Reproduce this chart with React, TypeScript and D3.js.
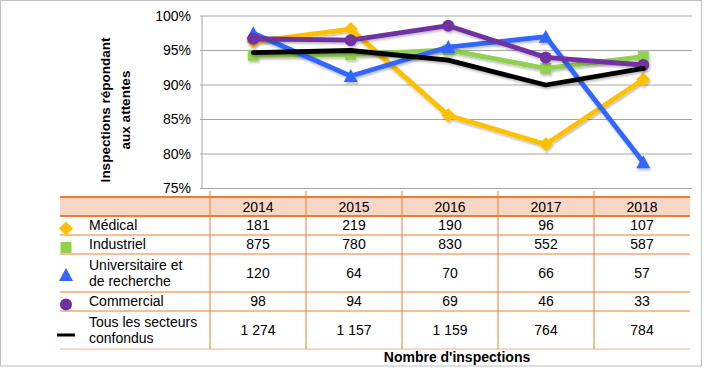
import React from "react";
import * as d3 from "d3";

const years = ["2014", "2015", "2016", "2017", "2018"];
const yTicks = [0.75, 0.8, 0.85, 0.9, 0.95, 1.0];

const medical = [0.963, 0.981, 0.856, 0.814, 0.908];
const industriel = [0.943, 0.944, 0.951, 0.924, 0.941];
const universitaire = [0.975, 0.913, 0.955, 0.970, 0.788];
const commercial = [0.967, 0.965, 0.986, 0.940, 0.929];
const tous = [0.947, 0.950, 0.936, 0.900, 0.924];

const countsMedical = ["181", "219", "190", "96", "107"];
const countsIndustriel = ["875", "780", "830", "552", "587"];
const countsUniversitaire = ["120", "64", "70", "66", "57"];
const countsCommercial = ["98", "94", "69", "46", "33"];
const countsTous = ["1 274", "1 157", "1 159", "764", "784"];

const seriesNames = [
  ["Médical"],
  ["Industriel"],
  ["Universitaire et", "de recherche"],
  ["Commercial"],
  ["Tous les secteurs", "confondus"],
];

const FONT = "'Liberation Sans', Arial, sans-serif";

type Series = { values: number[]; color: string; marker: string; counts: string[] };

const series: Series[] = [
  { values: medical, color: "#FFC000", marker: "diamond", counts: countsMedical },
  { values: industriel, color: "#92D050", marker: "square", counts: countsIndustriel },
  { values: universitaire, color: "#3366FF", marker: "triangle", counts: countsUniversitaire },
  { values: commercial, color: "#7030A0", marker: "circle", counts: countsCommercial },
  { values: tous, color: "#000000", marker: "none", counts: countsTous },
];

function Marker({ type, x, y, color }: { type: string; x: number; y: number; color: string }) {
  if (type === "diamond") {
    const s = 7;
    return <path d={`M${x},${y - s}L${x + s},${y}L${x},${y + s}L${x - s},${y}Z`} fill={color} />;
  }
  if (type === "square") {
    return <rect x={x - 5.5} y={y - 5.5} width={11} height={11} fill={color} />;
  }
  if (type === "triangle") {
    return <path d={`M${x},${y - 7}L${x + 7},${y + 6}L${x - 7},${y + 6}Z`} fill={color} />;
  }
  if (type === "circle") {
    return <circle cx={x} cy={y} r={6} fill={color} />;
  }
  return null;
}

export default function App() {
  const plotLeft = 204.5;
  const plotRight = 692;
  const x = d3.scaleBand<string>().domain(years).range([plotLeft, plotRight]);
  const xc = (yr: string) => (x(yr) as number) + x.bandwidth() / 2;
  const y = d3.scaleLinear().domain([0.75, 1]).range([188.5, 16]);

  const tableLeft = 60;
  const tableRight = 690;
  const colX = d3.scaleBand<string>().domain(years).range([210, tableRight]);
  const colC = (yr: string) => (colX(yr) as number) + colX.bandwidth() / 2;

  const rowEdges = [197, 216, 235, 254, 292, 311, 349];

  const line = d3
    .line<number>()
    .x((_, i) => xc(years[i]))
    .y((d) => y(d));

  return (
    <div style={{ position: "absolute", left: 0, top: 0 }}>
      <svg width={705} height={370} style={{ display: "block" }}>
        <defs>
          <filter id="sh" x="-20%" y="-20%" width="140%" height="140%">
            <feDropShadow dx="1" dy="2" stdDeviation="1" floodColor="#000" floodOpacity="0.25" />
          </filter>
        </defs>
        <rect x={0} y={0} width={705} height={370} fill="#fff" />
        <rect x={0.5} y={0.5} width={701} height={365.5} fill="none" stroke="#BFBFBF" strokeWidth={1} />

        {/* gridlines */}
        {yTicks.map((t) => (
          <line key={t} x1={200} x2={plotRight} y1={y(t)} y2={y(t)} stroke="#A6A6A6" strokeWidth={1} />
        ))}
        <line x1={202} x2={202} y1={y(1)} y2={y(0.75)} stroke="#A6A6A6" strokeWidth={1} />
        {yTicks.map((t) => (
          <text
            key={"l" + t}
            x={191}
            y={y(t)}
            dy="0.35em"
            textAnchor="end"
            fontFamily={FONT}
            fontSize={14}
            fill="#000"
          >
            {d3.format(".0%")(t)}
          </text>
        ))}

        {/* y axis title */}
        <text
          transform={`translate(110,110) rotate(-90)`}
          textAnchor="middle"
          fontFamily={FONT}
          fontSize={13.5}
          fontWeight="bold"
        >
          <tspan x={0} dy={0}>Inspections répondant</tspan>
          <tspan x={0} dy={20}>aux attentes</tspan>
        </text>

        {/* series */}
        {series.map((s, i) => (
          <g key={i} filter="url(#sh)">
            <path
              d={line(s.values) || ""}
              fill="none"
              stroke={s.color}
              strokeWidth={4.8}
              strokeLinejoin="round"
              strokeLinecap="round"
            />
            {s.values.map((v, j) => (
              <Marker key={j} type={s.marker} x={xc(years[j])} y={y(v)} color={s.color} />
            ))}
          </g>
        ))}

        {/* table */}
        <rect x={tableLeft} y={rowEdges[0]} width={tableRight - tableLeft} height={rowEdges[1] - rowEdges[0]} fill="#F7D6C5" />
        {rowEdges.map((r, i) => (
          <line
            key={"r" + i}
            x1={tableLeft}
            x2={tableRight}
            y1={r}
            y2={r}
            stroke={i === rowEdges.length - 1 ? "#F4B183" : "#ED7D31"}
            strokeWidth={i <= 1 ? 2 : 1}
          />
        ))}
        {years.map((yr) => (
          <line
            key={"c" + yr}
            x1={colX(yr) as number}
            x2={colX(yr) as number}
            y1={191}
            y2={rowEdges[rowEdges.length - 1]}
            stroke="#ED7D31"
            strokeWidth={1}
          />
        ))}
        {years.map((yr) => (
          <text
            key={"h" + yr}
            x={colC(yr)}
            y={(rowEdges[0] + rowEdges[1]) / 2 + 1}
            dy="0.35em"
            textAnchor="middle"
            fontFamily={FONT}
            fontSize={14}
          >
            {yr}
          </text>
        ))}
        {series.map((s, i) => {
          const top = rowEdges[i + 1];
          const bot = rowEdges[i + 2];
          const mid = (top + bot) / 2;
          const names = seriesNames[i];
          const lh = 16;
          return (
            <g key={"row" + i}>
              {s.marker === "none" ? (
                <line x1={57} x2={75} y1={mid + 5} y2={mid + 5} stroke="#000" strokeWidth={3} />
              ) : (
                <Marker type={s.marker} x={66} y={names.length > 1 ? mid + 2 : mid + 3} color={s.color} />
              )}
              {names.map((n, k) => (
                <text
                  key={k}
                  x={89}
                  y={mid + (k - (names.length - 1) / 2) * lh}
                  dy="0.35em"
                  fontFamily={FONT}
                  fontSize={14}
                >
                  {n}
                </text>
              ))}
              {s.counts.map((c, j) => (
                <text
                  key={"n" + j}
                  x={colC(years[j])}
                  y={mid}
                  dy="0.35em"
                  textAnchor="middle"
                  fontFamily={FONT}
                  fontSize={14}
                >
                  {c}
                </text>
              ))}
            </g>
          );
        })}

        <text x={457} y={357} dy="0.35em" textAnchor="middle" fontFamily={FONT} fontSize={14} fontWeight="bold">
          Nombre d'inspections
        </text>
      </svg>
    </div>
  );
}
